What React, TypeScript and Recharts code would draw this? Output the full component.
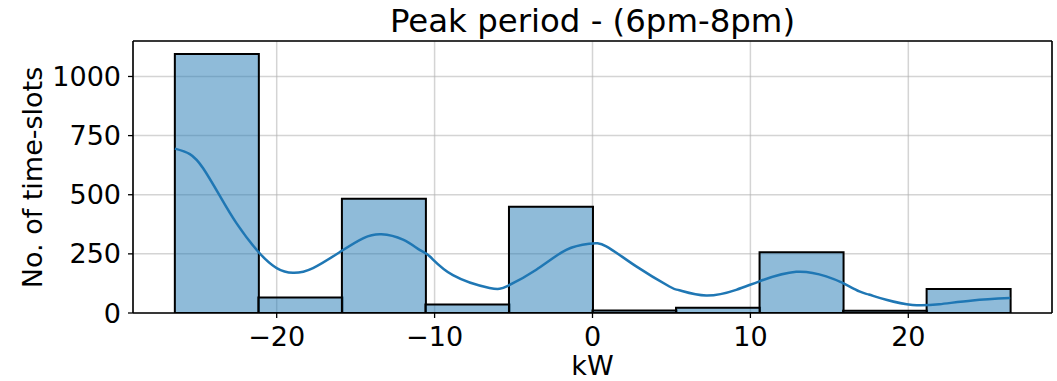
import { Bar, CartesianGrid, ComposedChart, Line, ReferenceLine, XAxis, YAxis } from "recharts";

const FONT = "'DejaVu Sans', sans-serif";
const C0 = "#1f77b4";
const GRID = "#b0b0b0";
const INK = "#000000";
const W = 1057;
const H = 381;

const TITLE = "Peak period - (6pm-8pm)";
const X_LABEL = "kW";
const Y_LABEL = "No. of time-slots";

// histogram bins (kW) and counts per bin
const BIN_EDGES = [-26.45, -21.16, -15.87, -10.58, -5.29, 0, 5.29, 10.58, 15.87, 21.16, 26.45];
const COUNTS = [1095, 66, 483, 36, 449, 11, 22, 257, 9, 101];

// kde curve
const KDE_X = [
  -26.45, -25.5, -24.66, -23.6, -22.55, -21.18, -20.0, -18.97, -17.7, -15.9, -14.5, -13.37,
  -12.0, -10.95, -10.3, -8.84, -6.52, -5.36, -3.56, -1.66, -0.19, 0.87, 2.77, 4.87, 5.5, 7.2,
  9.1, 10.57, 12.9, 14.8, 15.84, 16.9, 17.5, 18.6, 20.27, 21.96, 24.07, 26.45,
];
const KDE_Y = [
  695, 672, 612, 495, 380, 260, 190, 170, 190, 262, 317, 333,
  310, 267, 239, 160, 106, 115, 183, 267, 293, 282, 197, 112, 96, 74,
  98, 134, 174, 155, 127, 91, 78, 56, 34, 37, 53, 63,
];

const X_TICKS = [-20, -10, 0, 10, 20];
const Y_TICKS = [0, 250, 500, 750, 1000];
const X_DOMAIN: [number, number] = [-29.1, 29.1];
const Y_DOMAIN: [number, number] = [0, 1150];

const bins = COUNTS.map((count, i) => ({ x: (BIN_EDGES[i] + BIN_EDGES[i + 1]) / 2, count }));
const kde = KDE_X.map((x, i) => ({ x, y: KDE_Y[i] }));

const minus = (v: number) => String(v).replace("-", "\u2212");

const frame = { stroke: INK, strokeWidth: 1.6 };
const tickStyle = { fill: INK, fontSize: 27, fontFamily: FONT };

export default function App() {
  return (
    <div style={{ position: "absolute", left: 0, top: 0, width: W, height: H, background: "#fff" }}>
      <ComposedChart
        width={W}
        height={H}
        data={bins}
        margin={{ top: 41, right: 5, bottom: 0, left: 0 }}
        barCategoryGap={0}
        barGap={0}
      >
        <CartesianGrid stroke={GRID} strokeOpacity={0.55} strokeWidth={1.5} />
        <XAxis
          dataKey="x"
          type="number"
          domain={X_DOMAIN}
          ticks={X_TICKS}
          interval={0}
          allowDataOverflow
          tickFormatter={minus}
          height={68}
          tickSize={5}
          tickMargin={9}
          axisLine={frame}
          tickLine={{ stroke: INK, strokeWidth: 1.3 }}
          tick={tickStyle}
        />
        {/* separate hidden x axis so the kde points don't shrink the bar width */}
        <XAxis xAxisId="kde" dataKey="x" type="number" domain={X_DOMAIN} allowDataOverflow hide />
        <YAxis
          type="number"
          domain={Y_DOMAIN}
          ticks={Y_TICKS}
          interval={0}
          allowDataOverflow
          width={133}
          tickSize={5}
          tickMargin={7}
          axisLine={frame}
          tickLine={{ stroke: INK, strokeWidth: 1.3 }}
          tick={tickStyle}
        />
        <Bar
          dataKey="count"
          fill={C0}
          fillOpacity={0.5}
          stroke={INK}
          strokeWidth={2}
          isAnimationActive={false}
        />
        <Line
          data={kde}
          xAxisId="kde"
          dataKey="y"
          type="natural"
          stroke={C0}
          strokeWidth={2.5}
          dot={false}
          isAnimationActive={false}
        />
        {/* top and right spines */}
        <ReferenceLine y={Y_DOMAIN[1]} stroke={INK} strokeWidth={1.6} />
        <ReferenceLine x={X_DOMAIN[1]} stroke={INK} strokeWidth={1.6} />
      </ComposedChart>
      <svg
        width={W}
        height={H}
        style={{ position: "absolute", left: 0, top: 0, pointerEvents: "none" }}
        fontFamily={FONT}
      >
        <text x={592.5} y={32} fontSize={32.4} textAnchor="middle" fill={INK}>
          {TITLE}
        </text>
        <text x={592.5} y={375} fontSize={27} textAnchor="middle" fill={INK}>
          {X_LABEL}
        </text>
        <text
          transform="translate(41.5,177.5) rotate(-90)"
          fontSize={27}
          textAnchor="middle"
          fill={INK}
        >
          {Y_LABEL}
        </text>
      </svg>
    </div>
  );
}
